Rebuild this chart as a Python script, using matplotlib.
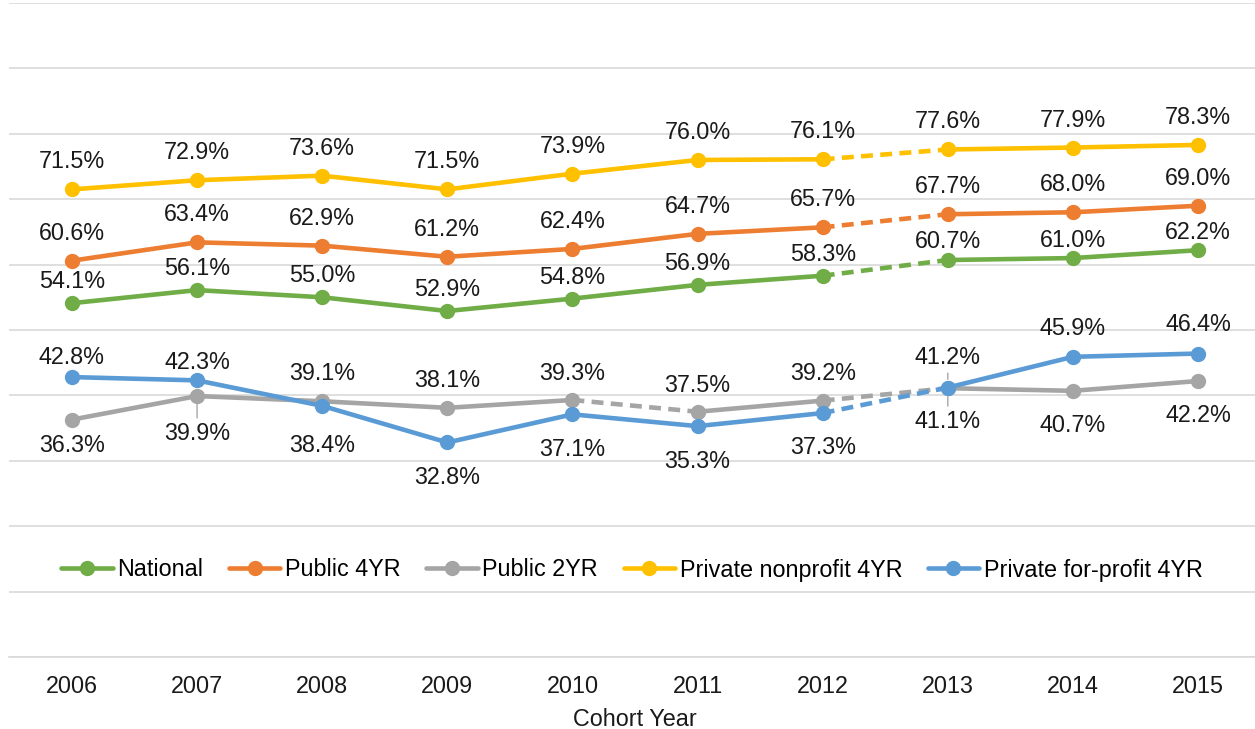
import matplotlib
matplotlib.use("Agg")
import matplotlib.pyplot as plt
from matplotlib.lines import Line2D

plt.rcParams['font.family'] = ['Liberation Sans', 'DejaVu Sans']

years = ['2006', '2007', '2008', '2009', '2010', '2011', '2012', '2013', '2014', '2015']
national = [54.1, 56.1, 55.0, 52.9, 54.8, 56.9, 58.3, 60.7, 61.0, 62.2]
public4 = [60.6, 63.4, 62.9, 61.2, 62.4, 64.7, 65.7, 67.7, 68.0, 69.0]
public2 = [36.3, 39.9, 39.1, 38.1, 39.3, 37.5, 39.2, 41.1, 40.7, 42.2]
private_np = [71.5, 72.9, 73.6, 71.5, 73.9, 76.0, 76.1, 77.6, 77.9, 78.3]
private_fp = [42.8, 42.3, 38.4, 32.8, 37.1, 35.3, 37.3, 41.2, 45.9, 46.4]
names = ['National', 'Public 4YR', 'Public 2YR', 'Private nonprofit 4YR', 'Private for-profit 4YR']

# styling / layout (not data)
colors = ['#70AD47', '#ED7D31', '#A5A5A5', '#FFC000', '#5B9BD5']
dashed_segments = [[6], [6], [4, 6], [6], [6]]  # segment i joins point i and i+1
# vertical label offsets in pixels (negative = above the point)
label_offsets = [
    [-24, -24, -24, -24, -24, -24, -24, -21, -20, -20],
    [-30, -30, -30, -30, -30, -30, -30, -30, -30, -30],
    [23, 35, -30, -30, -29, -29, -30, 31, 32, 32],
    [-30, -30, -30, -30, -30, -30, -30, -30, -30, -30],
    [-22, -20, 37, 33, 32.5, 33, 32, -32.5, -31, -31.5],
]
leaders = {(2, 1), (2, 7), (4, 7)}

series = [national, public4, public2, private_np, private_fp]

W, H, DPI = 1255, 729, 100
fig = plt.figure(figsize=(W / DPI, H / DPI), dpi=DPI)
left_px, right_px, top_px, bot_px = 9.4, 1260.6, 3, 657
ax = fig.add_axes([left_px / W, (H - bot_px) / H, (right_px - left_px) / W, (bot_px - top_px) / H])

x = list(range(len(years)))
px2pt = 72.0 / DPI
FS = 16.8

for k, (vals, col) in enumerate(zip(series, colors)):
    z = 3 + k
    for i in range(len(vals) - 1):
        if i in dashed_segments[k]:
            ax.plot(x[i:i + 2], vals[i:i + 2], color=col, lw=3.3, linestyle=(0, (2.6, 1.6)),
                    dash_capstyle='butt', zorder=z)
        else:
            ax.plot(x[i:i + 2], vals[i:i + 2], color=col, lw=3.3, solid_capstyle='round', zorder=z)
    ax.plot(x, vals, linestyle='none', marker='o', markersize=10, color=col,
            markeredgecolor=col, zorder=z + 0.5)
    for i, v in enumerate(vals):
        off = label_offsets[k][i]
        kw = {}
        if (k, i) in leaders:
            kw['arrowprops'] = dict(arrowstyle='-', color='#A6A6A6', lw=1.0, shrinkA=1, shrinkB=6)
        ax.annotate(f'{v:.1f}%', xy=(i, v), xytext=(0, -off * px2pt), textcoords='offset points',
                    ha='center', va='center_baseline', fontsize=FS, color='#1a1a1a', zorder=20, **kw)

ax.set_xlim(-0.5, len(years) - 0.5)
ax.set_ylim(0, 100)
ax.set_yticks(range(0, 101, 10))
ax.yaxis.grid(True, color='#D9D9D9', lw=1.2)
ax.set_axisbelow(True)
ax.tick_params(axis='y', left=False, labelleft=False)
ax.set_xticks(x)
ax.set_xticklabels(years, fontsize=FS, color='#1a1a1a')
ax.tick_params(axis='x', length=0, pad=13)
for s in ['top', 'right', 'left']:
    ax.spines[s].set_visible(False)
ax.spines['bottom'].set_color('#D9D9D9')
ax.spines['bottom'].set_linewidth(1.2)
ax.set_xlabel('Cohort Year', fontsize=FS, color='#1a1a1a', labelpad=7)

handles = [Line2D([0], [0], color=c, lw=3.3, marker='o', markersize=10, solid_capstyle='round')
           for c in colors]
leg_y = 1 - (570 - top_px) / (bot_px - top_px)
leg_x = (632 - left_px) / (right_px - left_px)
ax.legend(handles, names, loc='center', bbox_to_anchor=(leg_x, leg_y), ncol=5, frameon=False,
          fontsize=FS, handlelength=2.2, handletextpad=0.2, columnspacing=1.1,
          borderpad=0, borderaxespad=0)

fig.savefig('out.png', dpi=DPI)
